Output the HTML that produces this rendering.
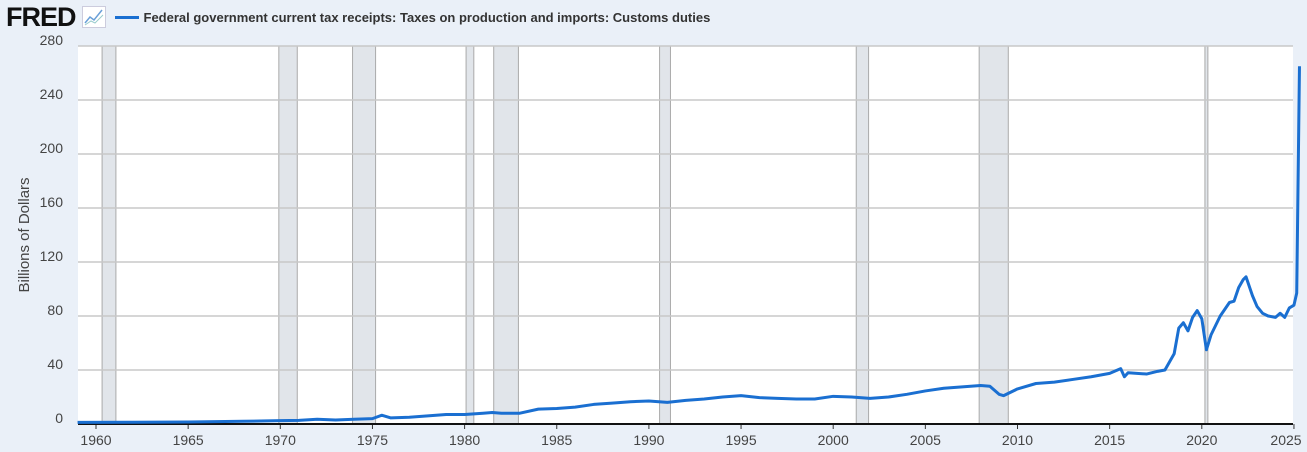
<!DOCTYPE html>
<html><head><meta charset="utf-8"><style>
body{margin:0;width:1307px;height:452px;background:#eaf0f8;font-family:"Liberation Sans",sans-serif;overflow:hidden;position:relative}
#hdr{position:absolute;left:6px;top:3px;height:28px;display:flex;align-items:center}
</style></head><body>
<div id="hdr">
 <span style="font-weight:900;font-size:27px;color:#111;letter-spacing:-1px;font-family:'Liberation Sans',sans-serif">FRED</span>
 <svg width="22" height="20" style="margin-left:6px;background:#fff;border:1px solid #ccd"><polyline points="2,16 7,10 11,13 19,3" fill="none" stroke="#6aa0d8" stroke-width="1.5"/><polyline points="2,18 8,14 12,16 20,8" fill="none" stroke="#9cc" stroke-width="1"/></svg>
 <span style="display:inline-block;width:24px;height:3px;background:#1a6fd1;margin-left:9px"></span>
 <span style="font-weight:bold;font-size:13px;color:#333;margin-left:5px">Federal government current tax receipts: Taxes on production and imports: Customs duties</span>
</div>
<svg id="chart" width="1307" height="452" style="position:absolute;left:0;top:0"></svg>
<script>
const years=[1959,1962,1965,1968,1970,1971,1972,1973,1974,1975,1975.5,1976,1977,1978,1979,1980,1981,1981.5,1982,1983,1984,1985,1986,1987,1988,1989,1990,1991,1992,1993,1994,1995,1996,1997,1998,1999,2000,2001,2002,2003,2004,2005,2006,2007,2008,2008.5,2009,2009.25,2010,2011,2012,2013,2014,2015,2015.6,2015.8,2016,2017,2017.6,2018,2018.5,2018.75,2019,2019.25,2019.5,2019.75,2020,2020.25,2020.5,2021,2021.5,2021.75,2022,2022.25,2022.4,2022.75,2023,2023.3,2023.6,2024,2024.25,2024.5,2024.75,2025,2025.15,2025.3];
const values=[1.2,1.3,1.5,2,2.5,2.7,3.5,3,3.5,4,6.5,4.5,5,6,7,7,8,8.5,8,8,11,11.5,12.5,14.5,15.5,16.5,17,16,17.5,18.5,20,21,19.5,19,18.5,18.5,20.5,20,19,20,22,24.5,26.5,27.5,28.5,28,22,21,26,30,31,33,35,37.5,41,35,38,37,39,40,52,71,75,69,79,84,78,55,66,80,90,91,101,107,109,95,87,82,80,79,82,79,86,88,97,265];
const yTicks=[0,40,80,120,160,200,240,280];
const xTicks=[1960,1965,1970,1975,1980,1985,1990,1995,2000,2005,2010,2015,2020,2025];
const recStart=[1960.33,1969.92,1973.92,1980.08,1981.58,1990.58,2001.25,2007.92,2020.17];
const recEnd=[1961.08,1970.92,1975.17,1980.5,1982.92,1991.17,2001.92,2009.5,2020.33];
const L=78,R=1293,T=46,B=424;
const X=y=>96+(y-1960)*18.43;
const Y=v=>B-v*(B-T)/280;
const svg=document.getElementById('chart');
const NS='http://www.w3.org/2000/svg';
function mk(t,a){const e=document.createElementNS(NS,t);for(const k in a)e.setAttribute(k,a[k]);svg.appendChild(e);return e;}
let e=mk('rect',{x:L,y:T,width:R-L,height:B-T,fill:'#fff'});


recStart.forEach((s,i)=>{const r=mk('rect',{x:X(s),y:T,width:Math.max(2,X(recEnd[i])-X(s)),height:B-T,fill:'#e1e5ea',stroke:'#aaa','stroke-width':1});

});
yTicks.forEach(v=>{if(v>0){const g=mk('line',{x1:L,x2:R,y1:Y(v),y2:Y(v),stroke:'#c8c8c8','stroke-width':1.5});

}
const t=mk('text',{x:63,y:Y(v)-1,'text-anchor':'end','font-size':14,fill:'#444'});t.textContent=v;

});
xTicks.forEach(y=>{const t=mk('text',{x:Math.min(X(y),1286),y:445,'text-anchor':'middle','font-size':14,fill:'#444'});t.textContent=y;


const k=mk('line',{x1:X(y),x2:X(y),y1:B,y2:B+5,stroke:'#333'});

});
const ax=mk('line',{x1:L,x2:R,y1:B,y2:B,stroke:'#111','stroke-width':2});


const yt=mk('text',{x:29,y:235,'text-anchor':'middle','font-size':15,fill:'#444',transform:'rotate(-90 29 235)'});yt.textContent='Billions of Dollars';


const p=mk('polyline',{points:years.map((y,i)=>X(y)+','+Y(values[i])).join(' '),fill:'none',stroke:'#1a6fd1','stroke-width':3,'stroke-linejoin':'round'});


</script>
</body></html>
